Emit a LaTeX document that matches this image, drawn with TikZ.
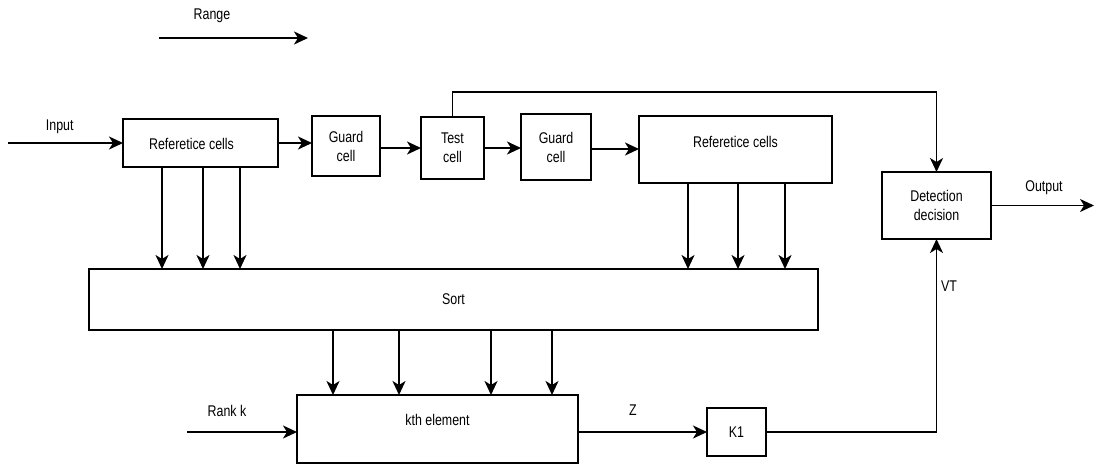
\documentclass[tikz,border=0pt]{standalone}
\usepackage{fontspec}
\setmainfont{Liberation Sans}[FakeStretch=0.8]
\usetikzlibrary{arrows.meta}

\begin{document}
\begin{tikzpicture}[
    x = 1pt, y = -1pt,
    font = \fontsize{15.5}{19}\selectfont,
    line width = 1.9pt,
    cell/.style = {
      rectangle, draw = black, fill = white, align = center,
      inner sep = 0mm, outer sep = 0mm,
    },
    arr/.style = {-{Stealth[length=14pt, width=13pt, inset=4pt]}},
  ]
  \useasboundingbox (0,0) rectangle (1094,464);

  % range
  \coordinate (r0) at (159,38);
  \coordinate (r1) at (308,38);
  \draw[arr] (r0) -- (r1);
  \node (range) at (212,16) {Range};

  % upper row of cells
  \node[cell, minimum width = 155pt, minimum height = 48pt,
    label = {[xshift=-9pt, yshift=-1pt]center:Referetice cells}] (ref1) at (200.5,143) {};
  \node[cell, minimum width = 68pt, minimum height = 60pt] (guard1) at (346,146) {Guard\\cell};
  \node[cell, minimum width = 63pt, minimum height = 62pt] (test) at (452.5,148) {Test\\cell};
  \node[cell, minimum width = 70pt, minimum height = 66pt] (guard2) at (556,147) {Guard\\cell};
  \node[cell, minimum width = 193pt, minimum height = 67pt,
    label = {[yshift=8pt]center:Referetice cells}] (ref2) at (735.5,149.5) {};
  \node[cell, minimum width = 109pt, minimum height = 67pt] (det) at (936.5,205.5) {Detection\\decision};

  \coordinate (in) at (8,143);
  \draw[arr] (in) -- (ref1.west) node[pos=.45, above=5pt] (input) {Input};
  \draw[arr] (ref1.east) -- (ref1.east -| guard1.west);
  \draw[arr] (guard1.east) ++(0,2) coordinate (g1) -- (g1 -| test.west);
  \draw[arr] (test.east) -- (test.east -| guard2.west);
  \draw[arr] (guard2.east) ++(0,2) coordinate (g2) -- (g2 -| ref2.west);
  \draw[arr] (test.north) -- ++(0,-25) -| (det.north);

  \coordinate (out) at (1094,205.5);
  \draw[arr] (det.east) -- (out);
  \node (output) at (1044,188) {Output};

  % sort and kth element
  \node[cell, minimum width = 729pt, minimum height = 61pt] (sort) at (453.5,299.5) {Sort};
  \node[cell, minimum width = 281pt, minimum height = 68pt,
    label = {[yshift=9pt]center:kth element}] (kth) at (437.5,429) {};
  \node[cell, minimum width = 59pt, minimum height = 48pt] (k1) at (736.5,432) {K1};

  \foreach \x in {162,203,240}
    \draw[arr] (ref1.south -| \x,0) -- (sort.north -| \x,0);
  \foreach \x in {688,738,785}
    \draw[arr] (ref2.south -| \x,0) -- (sort.north -| \x,0);
  \foreach \x in {333,399,491,552}
    \draw[arr] (sort.south -| \x,0) -- (kth.north -| \x,0);

  \coordinate (rk) at (187,432);
  \draw[arr] (rk) -- (rk -| kth.west);
  \node (rank) at (227,411) {Rank k};

  \draw[arr] (kth.east |- k1.west) -- (k1.west);
  \node (z) at (633,410) {Z};

  \draw[arr] (k1.east) -| (det.south);
  \node (vt) at (949,286) {VT};
\end{tikzpicture}
\end{document}
